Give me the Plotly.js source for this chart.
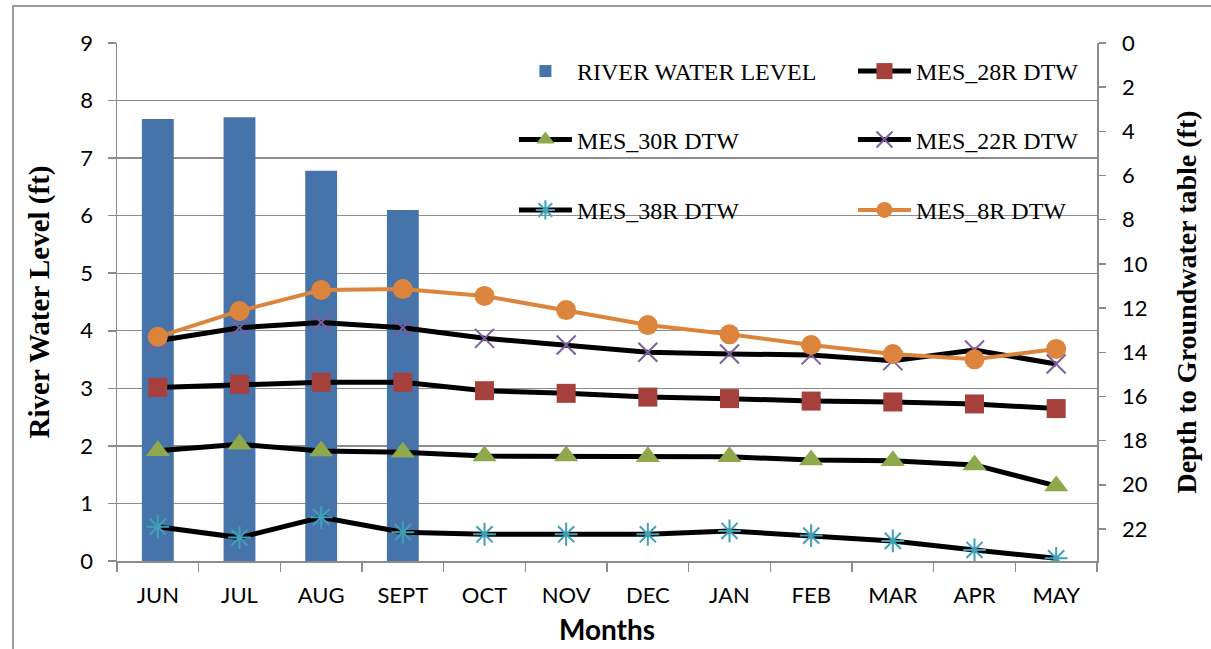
<!DOCTYPE html>
<html>
<head>
<meta charset="utf-8">
<script src="https://cdn.plot.ly/plotly-3.0.1.min.js"></script>
<style>
  html, body { margin: 0; padding: 0; background: #fff; overflow: hidden; }
  #frame { position: absolute; left: 12px; top: 5px; width: 1300px; height: 800px; border: 2px solid #9a9a9a; box-sizing: border-box; }
  #chart { position: absolute; left: 0; top: 0; width: 1211px; height: 649px; }
</style>
</head>
<body>
<div id="frame"></div>
<div id="chart"></div>
<script>
const months = ["JUN","JUL","AUG","SEPT","OCT","NOV","DEC","JAN","FEB","MAR","APR","MAY"];
const riverLevel = [7.68, 7.71, 6.78, 6.10, null, null, null, null, null, null, null, null];
const mes28R = [15.59, 15.45, 15.36, 15.36, 15.74, 15.86, 16.03, 16.10, 16.21, 16.25, 16.34, 16.55];
const mes30R = [18.46, 18.17, 18.47, 18.53, 18.70, 18.70, 18.73, 18.73, 18.88, 18.91, 19.10, 20.05];
const mes22R = [13.48, 12.89, 12.65, 12.89, 13.37, 13.67, 14.00, 14.08, 14.12, 14.38, 13.90, 14.53];
const mes38R = [21.90, 22.39, 21.47, 22.15, 22.24, 22.24, 22.24, 22.09, 22.30, 22.54, 22.95, 23.33];
const mes8R  = [13.30, 12.13, 11.18, 11.14, 11.45, 12.09, 12.77, 13.19, 13.67, 14.08, 14.32, 13.85];
const leftTicks = [0,1,2,3,4,5,6,7,8,9];
const rightTicks = [0,2,4,6,8,10,12,14,16,18,20,22];

const tickFont = {family: "Lato, 'Open Sans', sans-serif", size: 22, color: "#000"};
const legFont = {family: "'Liberation Serif', 'Times New Roman', serif", size: 24, color: "#000"};
const grey = "#8c8c8c";

const traces = [
  {type: "bar", name: "RIVER WATER LEVEL", x: months, y: riverLevel, width: 0.39,
   marker: {color: "#4673A9"}, yaxis: "y", legend: "legend"},
  {type: "scatter", mode: "lines+markers", name: "MES_28R DTW", x: months, y: mes28R, yaxis: "y2",
   line: {color: "#000", width: 5}, marker: {symbol: "square", size: 19, color: "#A5403D"}, legend: "legend2"},
  {type: "scatter", mode: "lines+markers", name: "MES_30R DTW", x: months, y: mes30R, yaxis: "y2",
   line: {color: "#000", width: 5}, marker: {symbol: "triangle-up", size: 21, color: "#8EA94B"}, legend: "legend3"},
  {type: "scatter", mode: "lines+markers", name: "MES_22R DTW", x: months, y: mes22R, yaxis: "y2",
   line: {color: "#000", width: 5}, marker: {symbol: "x-thin-open", size: 19, color: "#7D5FA0", line: {width: 2, color: "#7D5FA0"}}, legend: "legend4"},
  {type: "scatter", mode: "lines+markers", name: "MES_38R DTW", x: months, y: mes38R, yaxis: "y2",
   line: {color: "#000", width: 5}, marker: {symbol: "asterisk-open", size: 19, color: "#3FA0B8", line: {width: 2, color: "#3FA0B8"}}, legend: "legend5"},
  {type: "scatter", mode: "lines+markers", name: "MES_8R DTW", x: months, y: mes8R, yaxis: "y2",
   line: {color: "#DD843C", width: 4}, marker: {symbol: "circle", size: 20, color: "#DD843C"}, legend: "legend6"}
];

function leg(x, y) {
  return {orientation: "v", x: x, y: y, xanchor: "left", yanchor: "middle",
          bgcolor: "rgba(0,0,0,0)", font: legFont, itemwidth: 53, tracegroupgap: 0};
}
const colA = 0.405, colB = 0.751;
const rowA = 0.945, rowB = 0.813, rowC = 0.677;

const layout = {
  width: 1211, height: 649,
  margin: {l: 117, r: 114, t: 43, b: 88},
  paper_bgcolor: "rgba(0,0,0,0)", plot_bgcolor: "rgba(0,0,0,0)",
  showlegend: true,
  legend: leg(colA, rowA),
  legend2: leg(colB, rowA),
  legend3: leg(colA, rowB),
  legend4: leg(colB, rowB),
  legend5: leg(colA, rowC),
  legend6: leg(colB, rowC),
  xaxis: {
    type: "category", range: [-0.5, 11.5], autorange: false,
    tickson: "boundaries", ticks: "outside", ticklen: 9, tickcolor: grey, tickwidth: 1.5,
    showline: true, linecolor: grey, linewidth: 1.5, showgrid: false, tickfont: tickFont,
    ticklabelstandoff: 14,
    title: {text: "Months", font: {family: "Lato, sans-serif", size: 28, color: "#000", weight: "bold"}, standoff: 13},
    fixedrange: true
  },
  yaxis: {
    range: [0, 9], tickvals: leftTicks, ticks: "outside", ticklen: 8, tickcolor: grey, tickwidth: 1.5,
    showline: true, linecolor: grey, linewidth: 1.5, showgrid: true, gridcolor: grey, gridwidth: 1.3,
    zeroline: false, tickfont: tickFont, ticklabelstandoff: 10,
    title: {text: "River Water Level (ft)", font: {family: "'Liberation Serif', 'Times New Roman', serif", size: 29, color: "#000", weight: "bold"}, standoff: 22}
  },
  yaxis2: {
    overlaying: "y", side: "right", range: [23.45, 0], tickvals: rightTicks, ticks: "outside", ticklen: 7,
    tickcolor: grey, tickwidth: 1.5, showline: true, linecolor: grey, linewidth: 1.5, showgrid: false,
    zeroline: false, tickfont: tickFont, ticklabelstandoff: 12,
    title: {text: "Depth to Groundwater table (ft)", font: {family: "'Liberation Serif', 'Times New Roman', serif", size: 28, color: "#000", weight: "bold"}, standoff: 29}
  }
};

Plotly.newPlot("chart", traces, layout, {displayModeBar: false, staticPlot: true});
</script>
</body>
</html>
